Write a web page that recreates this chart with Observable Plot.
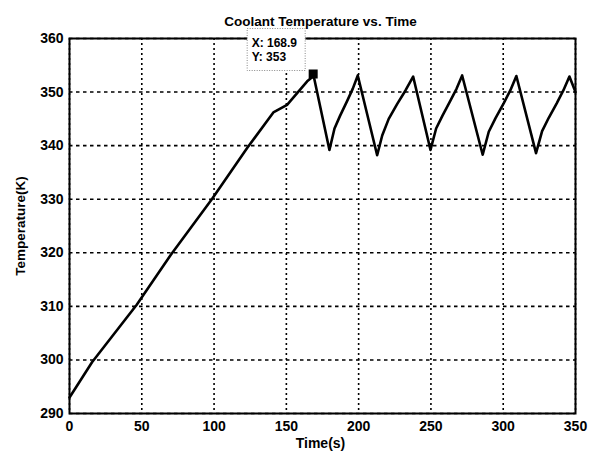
<!DOCTYPE html>
<html>
<head>
<meta charset="utf-8">
<script src="https://cdn.jsdelivr.net/npm/d3@7"></script>
<script src="https://cdn.jsdelivr.net/npm/@observablehq/plot@0.6"></script>
<style>
  html, body { margin: 0; padding: 0; background: #fff; }
</style>
</head>
<body>
<div id="chart"></div>
<script>
const time = [0, 15.7, 46.5, 70, 98.7, 123, 141, 150.5, 164.4, 168.9,
  179.8, 183.3, 187.2, 192, 195.9, 199.4,
  212.8, 216.3, 220.8, 226.7, 232.4, 237.7,
  249.7, 253.6, 258, 263.3, 267.7, 271.6,
  285.8, 290, 294.6, 300.3, 304.9, 309.1,
  322.7, 326.9, 331.5, 337, 341.6, 345.8, 350];
const temp = [293, 299.6, 310.3, 319.6, 330.1, 339.6, 346.2, 347.6, 352, 353,
  339.2, 343.2, 345.6, 348.3, 350.6, 353.1,
  338.2, 341.9, 345, 347.8, 350.3, 352.9,
  339.2, 343.2, 345.6, 348.3, 350.6, 353.1,
  338.3, 342.6, 345.1, 347.9, 350.3, 353,
  338.6, 342.7, 345.2, 347.9, 350.3, 352.9, 350];
const xTicks = [0, 50, 100, 150, 200, 250, 300, 350];
const yTicks = [290, 300, 310, 320, 330, 340, 350, 360];
const tipPoint = {t: 168.9, T: 353};
const tipLabels = ["X: 168.9", "Y: 353"];
const titleText = "Coolant Temperature vs. Time";
const xLabel = "Time(s)";
const yLabel = "Temperature(K)";

const data = time.map((t, i) => ({t, T: temp[i]}));
const font = "'Liberation Sans', Arial, Helvetica, sans-serif";

const chart = Plot.plot({
  width: 592,
  height: 452,
  marginLeft: 69,
  marginRight: 17,
  marginTop: 38,
  marginBottom: 39,
  style: {fontFamily: font, fontSize: "14px", fontWeight: "bold", background: "#fff", color: "#000"},
  x: {domain: [0, 350]},
  y: {domain: [290, 360]},
  marks: [
    Plot.gridX(xTicks, {stroke: "#000", strokeOpacity: 1, strokeWidth: 1.6, strokeDasharray: "2,3"}),
    Plot.gridY(yTicks, {stroke: "#000", strokeOpacity: 1, strokeWidth: 1.6, strokeDasharray: "3.5,3.5"}),
    Plot.axisX({ticks: xTicks, tickSize: 0, tickPadding: 8, fontSize: 14, fontWeight: "bold", label: null}),
    Plot.axisY({ticks: yTicks, tickSize: 0, tickPadding: 6, fontSize: 14, fontWeight: "bold", label: null}),
    Plot.line(data, {x: "t", y: "T", stroke: "#000", strokeWidth: 2.6, strokeLinejoin: "round"}),
    Plot.frame({stroke: "#000", strokeWidth: 2}),
    Plot.text([titleText], {text: d => d, frameAnchor: "top", lineAnchor: "middle", textAnchor: "middle", dy: -17, dx: -2, fontSize: 13.5, fontWeight: "bold"}),
    Plot.text([xLabel], {text: d => d, frameAnchor: "bottom", lineAnchor: "middle", textAnchor: "middle", dy: 30, dx: -2, fontSize: 14, fontWeight: "bold"}),
    Plot.text([yLabel], {text: d => d, frameAnchor: "left", lineAnchor: "middle", textAnchor: "middle", dx: -49, rotate: -90, fontSize: 13.5, fontWeight: "bold"})
  ]
});

document.getElementById("chart").appendChild(chart);

// data tip
const sx = chart.scale("x"), sy = chart.scale("y");
const px = sx.apply(tipPoint.t), py = sy.apply(tipPoint.T);
const svg = d3.select(chart);
const g = svg.append("g").attr("text-anchor", "start");
g.append("rect")
  .attr("x", px - 66).attr("y", py - 47)
  .attr("width", 58).attr("height", 42)
  .attr("fill", "#fff").attr("stroke", "#888")
  .attr("stroke-width", 1).attr("stroke-dasharray", "1,1.5");
g.selectAll("text.tip").data(tipLabels).join("text")
  .attr("x", px - 61.5)
  .attr("y", (d, i) => py - 29 + i * 14.5)
  .attr("text-anchor", "start")
  .attr("font-family", font)
  .attr("font-size", 12)
  .attr("font-weight", "bold")
  .attr("fill", "#000")
  .text(d => d);
g.append("rect")
  .attr("x", px - 4.5).attr("y", py - 6)
  .attr("width", 9).attr("height", 9)
  .attr("fill", "#000");
</script>
</body>
</html>
